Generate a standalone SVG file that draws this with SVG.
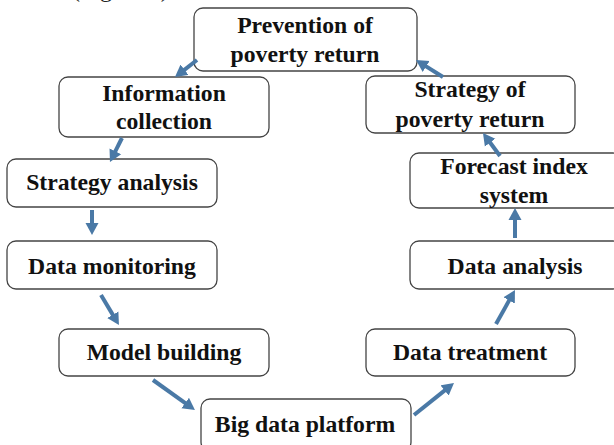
<svg xmlns="http://www.w3.org/2000/svg" width="614" height="445" viewBox="0 0 614 445">
  <style>
    .box { fill: #ffffff; stroke: #444444; stroke-width: 1.3; }
    .lbl { font-family: "Liberation Serif", "Times New Roman", serif; font-weight: bold; font-size: 23.7px; fill: #111111; text-anchor: middle; }
    .cap { font-family: "Liberation Serif", "Times New Roman", serif; font-size: 24px; fill: #222222; }
    .flow { stroke: #4a79a6; stroke-width: 4; fill: none; marker-end: url(#head); }
  </style>
  <defs>
    <marker id="head" markerUnits="userSpaceOnUse" markerWidth="14" markerHeight="14" viewBox="0 -7 14 14" refX="1" refY="0" orient="auto">
      <path d="M0,-6.5 L12,0 L0,6.5 Z" fill="#4a79a6"/>
    </marker>
  </defs>
  <rect width="614" height="445" fill="#ffffff"/>

  <!-- caption line above the figure, mostly outside the frame -->
  <text class="cap" x="72" y="-3">(Figure 3)</text>

  <g id="prevention">
    <rect class="box" x="194" y="8" width="223" height="63" rx="9"/>
    <text class="lbl" x="305" y="33">Prevention of</text>
    <text class="lbl" x="305" y="62">poverty return</text>
  </g>
  <g id="information-collection">
    <rect class="box" x="59" y="77" width="210" height="60" rx="9"/>
    <text class="lbl" x="164" y="101">Information</text>
    <text class="lbl" x="164" y="129">collection</text>
  </g>
  <g id="strategy-analysis">
    <rect class="box" x="7" y="159" width="210" height="48" rx="9"/>
    <text class="lbl" x="112" y="190">Strategy analysis</text>
  </g>
  <g id="data-monitoring">
    <rect class="box" x="7" y="241" width="210" height="48" rx="9"/>
    <text class="lbl" x="112" y="274">Data monitoring</text>
  </g>
  <g id="model-building">
    <rect class="box" x="59" y="329" width="210" height="47" rx="9"/>
    <text class="lbl" x="164" y="360">Model building</text>
  </g>
  <g id="big-data-platform">
    <rect class="box" x="201" y="399" width="210" height="52" rx="9"/>
    <text class="lbl" x="305" y="432">Big data platform</text>
  </g>
  <g id="data-treatment">
    <rect class="box" x="366" y="329" width="209" height="47" rx="9"/>
    <text class="lbl" x="470" y="360">Data treatment</text>
  </g>
  <g id="data-analysis">
    <rect class="box" x="410" y="241" width="212" height="48" rx="9"/>
    <text class="lbl" x="515" y="274">Data analysis</text>
  </g>
  <g id="forecast-index-system">
    <rect class="box" x="410" y="153" width="212" height="55" rx="9"/>
    <text class="lbl" x="514" y="174">Forecast index</text>
    <text class="lbl" x="514" y="203">system</text>
  </g>
  <g id="strategy-of-poverty-return">
    <rect class="box" x="366" y="76" width="209" height="57" rx="9"/>
    <text class="lbl" x="470" y="97">Strategy of</text>
    <text class="lbl" x="470" y="127">poverty return</text>
  </g>

  <g id="connectors">
    <line class="flow" x1="197" y1="60" x2="183.7" y2="70.3"/>
    <line class="flow" x1="122" y1="138" x2="114.9" y2="152.2"/>
    <line class="flow" x1="92" y1="210" x2="92" y2="224"/>
    <line class="flow" x1="101" y1="295" x2="113.3" y2="315.6"/>
    <line class="flow" x1="153" y1="380" x2="186" y2="403.6"/>
    <line class="flow" x1="414" y1="415" x2="445.4" y2="389.9"/>
    <line class="flow" x1="496" y1="324" x2="509.6" y2="299.6"/>
    <line class="flow" x1="515" y1="238" x2="515" y2="219"/>
    <line class="flow" x1="500" y1="156" x2="489.5" y2="141.8"/>
    <line class="flow" x1="443" y1="77" x2="425.3" y2="65.9"/>
  </g>
</svg>
